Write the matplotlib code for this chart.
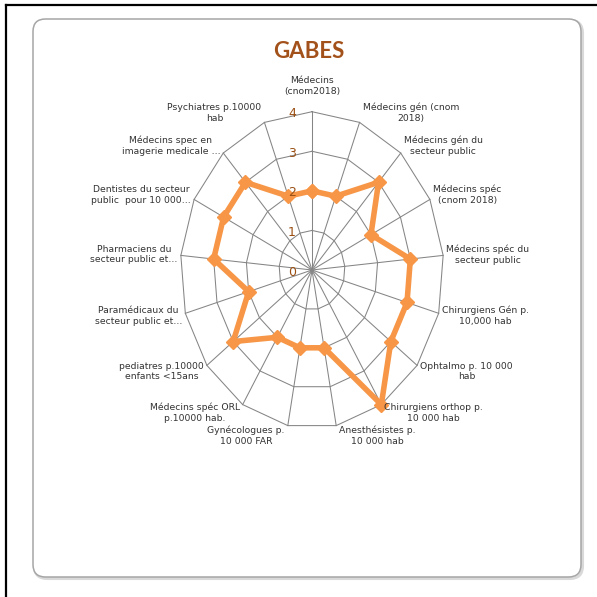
import numpy as np
import matplotlib
matplotlib.use("Agg")
import matplotlib.pyplot as plt
from matplotlib.patches import FancyBboxPatch
from matplotlib.lines import Line2D

title = "GABES"
categories = [
    "Médecins\n(cnom2018)",
    "Médecins gén (cnom\n2018)",
    "Médecins gén du\nsecteur public",
    "Médecins spéc\n(cnom 2018)",
    "Médecins spéc du\nsecteur public",
    "Chirurgiens Gén p.\n10,000 hab",
    "Ophtalmo p. 10 000\nhab",
    "Chirurgiens orthop p.\n10 000 hab",
    "Anesthésistes p.\n10 000 hab",
    "Gynécologues p.\n10 000 FAR",
    "Médecins spéc ORL\np.10000 hab.",
    "pediatres p.10000\nenfants <15ans",
    "Paramédicaux du\nsecteur public et…",
    "Pharmaciens du\nsecteur public et…",
    "Dentistes du secteur\npublic  pour 10 000…",
    "Médecins spec en\nimagerie medicale …",
    "Psychiatres p.10000\nhab",
]
values = [2, 2, 3, 2, 3, 3, 3, 4, 2, 2, 2, 3, 2, 3, 3, 3, 2]
r_ticks = [0, 1, 2, 3, 4]

LINE = "#F79646"
GRID = "#858585"
TICKC = "#9A4E12"
TITLEC = "#A3511A"
FONT = ["Liberation Sans Narrow", "DejaVu Sans"]

W = 597
fig = plt.figure(figsize=(5.97, 5.97), dpi=100)
fig.patch.set_facecolor("white")

# outer black frame lines (left, top)
fig.add_artist(Line2D([6 / W, 6 / W], [0, 1 - 5 / W], color="black", lw=1.6,
                      transform=fig.transFigure, zorder=-5))
fig.add_artist(Line2D([6 / W, 1], [1 - 5 / W, 1 - 5 / W], color="black", lw=1.6,
                      transform=fig.transFigure, zorder=-5))

# rounded chart box with soft shadow
x0, y0 = 33 / W, (W - 577) / W
bw, bh = (581 - 33) / W, (577 - 19) / W
shadow = FancyBboxPatch((x0 + 1.5 / W, y0 - 1.5 / W), bw, bh,
                        boxstyle="round,pad=0,rounding_size=0.021",
                        transform=fig.transFigure, facecolor="none",
                        edgecolor="#D9D9D9", lw=2.2, zorder=-4)
fig.add_artist(shadow)
box = FancyBboxPatch((x0, y0), bw, bh,
                     boxstyle="round,pad=0,rounding_size=0.021",
                     transform=fig.transFigure, facecolor="white",
                     edgecolor="#A6A6A6", lw=1.1, zorder=-3)
fig.add_artist(box)

# polar axes stretched into an ellipse (as in the reference)
cx, cy = 312, 270
rx, ry = 131.7, 158.3
ax = fig.add_axes([(cx - rx) / W, (W - cy - ry) / W, 2 * rx / W, 2 * ry / W],
                  projection="polar")
ax.set_aspect("auto")
ax.set_theta_zero_location("N")
ax.set_theta_direction(-1)
ax.set_ylim(0, 4)
ax.grid(False)
ax.set_xticks([])
ax.set_yticks([])
ax.spines["polar"].set_visible(False)
ax.patch.set_visible(False)

n = len(categories)
theta = np.arange(n) * 2 * np.pi / n
theta_c = np.append(theta, theta[0])

# polygon gridlines
for r in r_ticks[1:]:
    ax.plot(theta_c, [r] * (n + 1), color=GRID, lw=0.75, clip_on=False, zorder=1)
# spokes
for t in theta:
    ax.plot([t, t], [0, r_ticks[-1]], color=GRID, lw=0.75, clip_on=False, zorder=1)

# data
vals_c = np.append(values, values[0])
ax.plot(theta_c, vals_c, color=LINE, lw=4.0, marker="D", markersize=7.5,
        markerfacecolor=LINE, markeredgecolor=LINE, clip_on=False, zorder=3,
        solid_joinstyle="miter")

# radial tick labels
for r in r_ticks:
    ax.annotate(str(r), xy=(0, r), xytext=(-20, -2), textcoords="offset pixels",
                ha="center", va="center", fontsize=9, color=TICKC,
                family=FONT, zorder=4)

# category labels
for t, lab in zip(theta, categories):
    s, c = np.sin(t), np.cos(t)
    if abs(s) < 0.15:
        ha = "center"
        dx = 0
    elif s > 0:
        ha = "left"
        dx = 3
    else:
        ha = "right"
        dx = -3
    dy = 26 if c > 0.98 else c * 10
    ax.annotate(lab, xy=(t, 4), xytext=(dx, dy), textcoords="offset pixels",
                ha=ha, va="center", multialignment="center", fontsize=6.7,
                color="#333333", family=FONT, linespacing=1.25,
                annotation_clip=False)

fig.text(309 / W, 1 - 51 / W, title, ha="center", va="center", fontsize=16,
         fontweight="bold", color=TITLEC, family=["Lato", "DejaVu Sans"])

fig.savefig("out.png", dpi=100, facecolor="white")
